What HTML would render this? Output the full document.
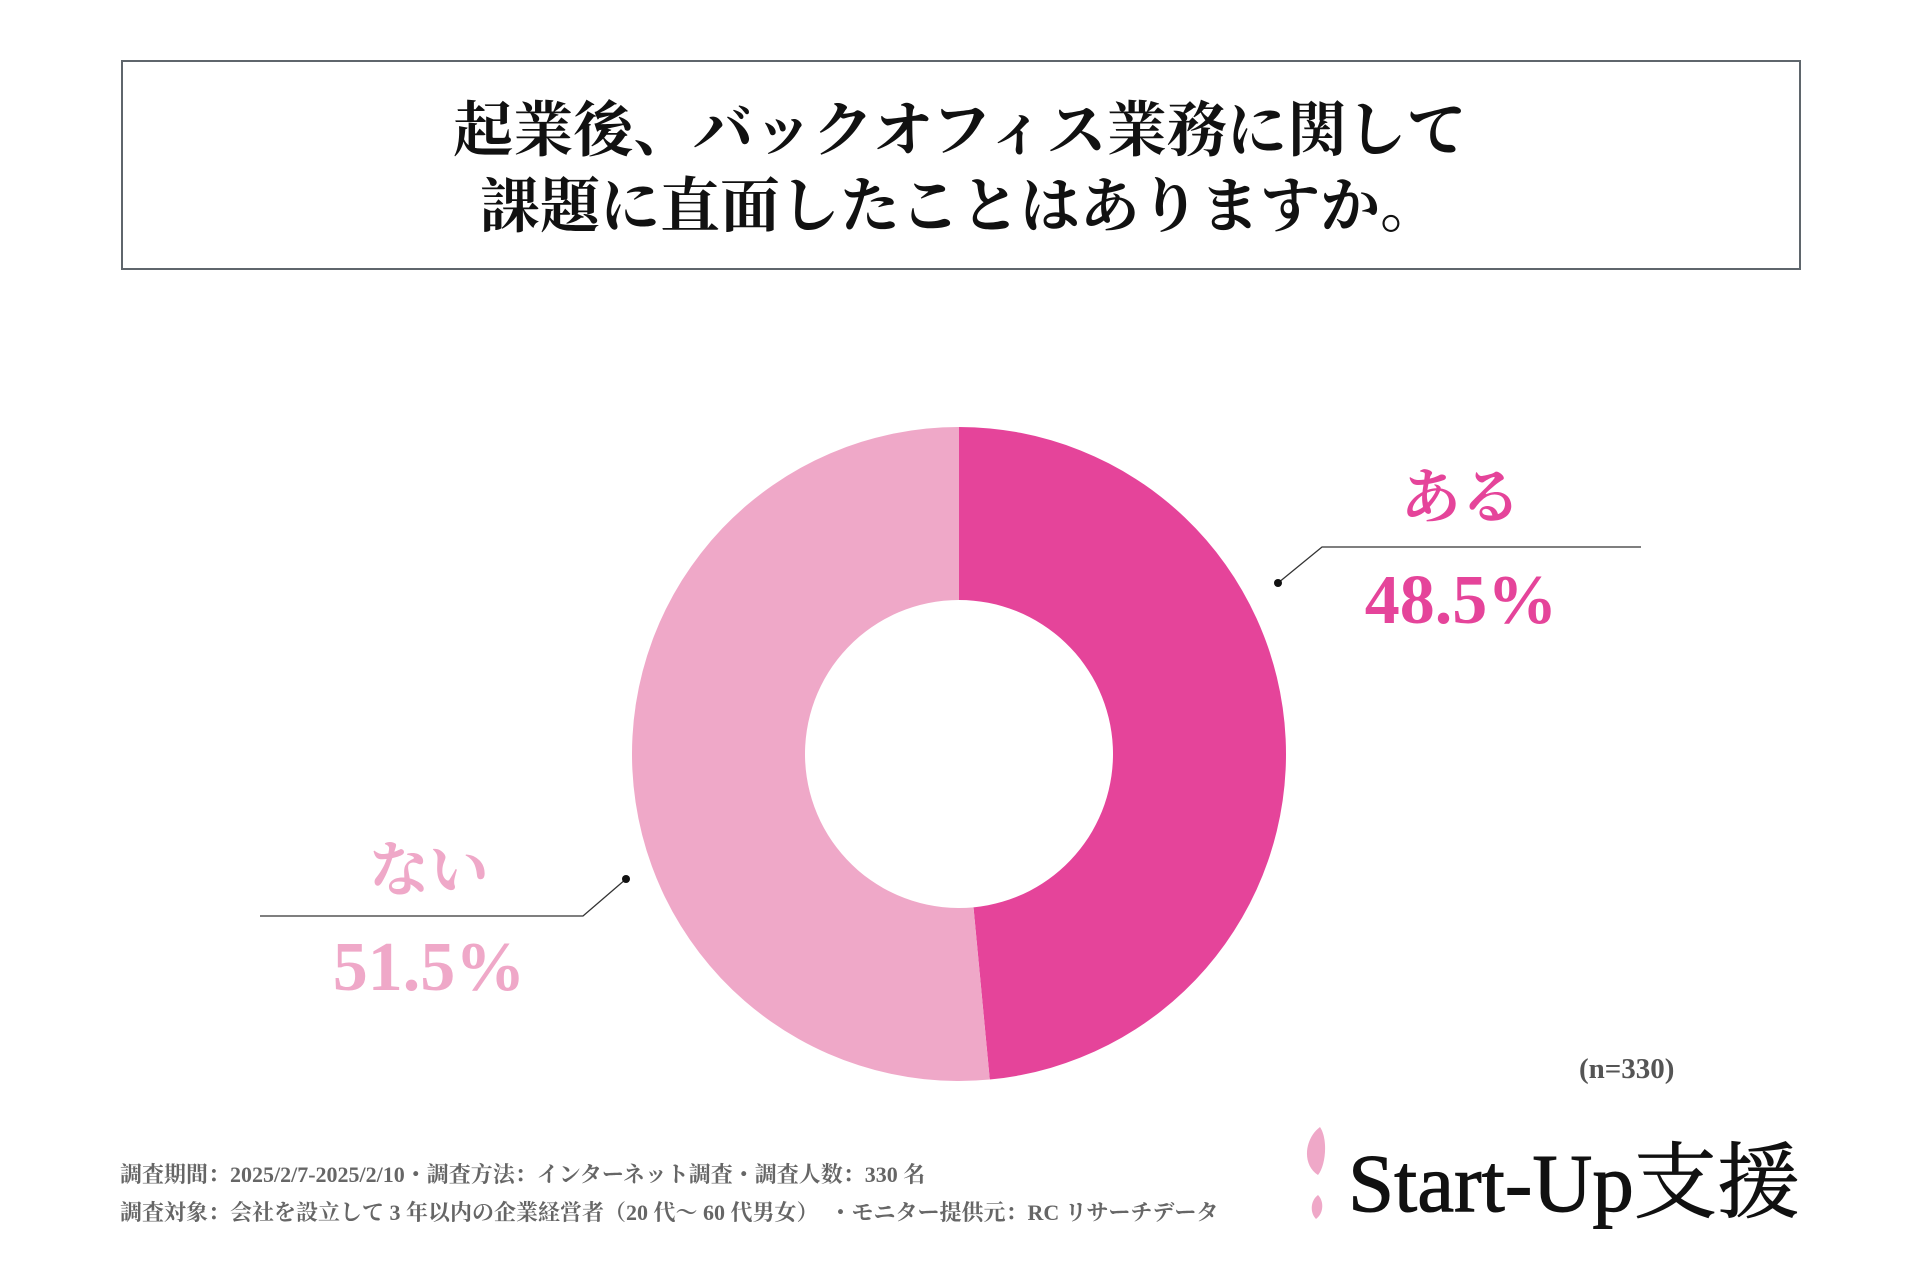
<!DOCTYPE html>
<html><head><meta charset="utf-8"><style>
html,body{margin:0;padding:0;background:#fff;}
body{width:1920px;height:1280px;position:relative;overflow:hidden;font-family:"Liberation Serif","Noto Serif CJK SC",serif;}
.t{position:absolute;white-space:nowrap;}
</style></head><body>
<div style="position:absolute;left:121px;top:60px;width:1676px;height:206px;border:2px solid #5f666c;"></div>
<div class="t" style="left:0;width:1920px;top:93px;text-align:center;font-size:60px;font-weight:bold;line-height:76px;color:#111;">起業後、バックオフィス業務に関して<br>課題に直面したことはありますか。</div>
<svg id="chart" width="1920" height="1280" style="position:absolute;left:0;top:0;"></svg>
<div class="t" style="left:1579px;top:1053px;font-size:29px;font-weight:bold;color:#555;">(n=330)</div>
<div class="t" style="left:120px;top:1158px;font-size:22px;font-weight:bold;color:#666;">調査期間：2025/2/7-2025/2/10・調査方法：インターネット調査・調査人数：330 名</div>
<div class="t" style="left:120px;top:1196px;font-size:22px;font-weight:bold;color:#666;">調査対象：会社を設立して 3 年以内の企業経営者（20 代〜 60 代男女）　・モニター提供元：RC リサーチデータ</div>
<svg width="40" height="100" style="position:absolute;left:1296px;top:1125px;">
<path d="M24 2 C8 14 6 40 22 50 C30 40 32 14 24 2Z" fill="#efa8c8"/>
<path d="M22 70 C14 76 14 88 20 94 C28 88 28 76 22 70Z" fill="#efa8c8"/>
</svg>
<div class="t" style="left:1348px;top:1115px;font-size:83px;color:#111;-webkit-text-stroke:1px #111;">Start-Up支援</div>
<script>
const categories=["ある","ない"];
const values=[48.5,51.5];
const labelsPct=["48.5%","51.5%"];
const colors=["#e5449a","#efa8c8"];
const svg=document.getElementById('chart');
const NS='http://www.w3.org/2000/svg';
const cx=959,cy=754,R=327,r=154;
const total=values.reduce((a,b)=>a+b,0);
function pt(rad,frac){const a=frac*2*Math.PI-Math.PI/2;return [cx+rad*Math.cos(a),cy+rad*Math.sin(a)];}
let acc=0;
values.forEach((v,i)=>{
  const f0=acc/total,f1=(acc+v)/total;acc+=v;
  const large=(f1-f0)>0.5?1:0;
  const [x0,y0]=pt(R,f0),[x1,y1]=pt(R,f1),[x2,y2]=pt(r,f1),[x3,y3]=pt(r,f0);
  const p=document.createElementNS(NS,'path');
  p.setAttribute('d',`M${x0} ${y0} A${R} ${R} 0 ${large} 1 ${x1} ${y1} L${x2} ${y2} A${r} ${r} 0 ${large} 0 ${x3} ${y3}Z`);
  p.setAttribute('fill',colors[i]);
  
  
  svg.appendChild(p);
});
const leaders=[{dot:[1278,583],bend:[1322,547],end:[1641,547],lx:1461,ly1:518,ly2:623},
               {dot:[626,879],bend:[583,916],end:[260,916],lx:429,ly1:891,ly2:990}];
leaders.forEach((L,i)=>{
  const pl=document.createElementNS(NS,'polyline');
  pl.setAttribute('points',`${L.dot[0]},${L.dot[1]} ${L.bend[0]},${L.bend[1]} ${L.end[0]},${L.end[1]}`);
  pl.setAttribute('fill','none');pl.setAttribute('stroke','#333');pl.setAttribute('stroke-width','1.3');
  
  
  svg.appendChild(pl);
  const c=document.createElementNS(NS,'circle');
  c.setAttribute('cx',L.dot[0]);c.setAttribute('cy',L.dot[1]);c.setAttribute('r','4');c.setAttribute('fill','#111');
  
  
  svg.appendChild(c);
  const t1=document.createElementNS(NS,'text');
  t1.setAttribute('x',L.lx);t1.setAttribute('y',L.ly1);t1.setAttribute('text-anchor','middle');
  t1.setAttribute('font-size','60');t1.setAttribute('font-weight','bold');t1.setAttribute('fill',colors[i]);
  t1.setAttribute('font-family','"Liberation Serif","Noto Serif CJK SC",serif');
  t1.textContent=categories[i];
  
  
  svg.appendChild(t1);
  const t2=document.createElementNS(NS,'text');
  t2.setAttribute('x',L.lx);t2.setAttribute('y',L.ly2);t2.setAttribute('text-anchor','middle');
  t2.setAttribute('font-size','70');t2.setAttribute('font-weight','bold');t2.setAttribute('fill',colors[i]);
  t2.setAttribute('font-family','"Liberation Serif","Noto Serif CJK SC",serif');
  t2.textContent=labelsPct[i];
  
  
  svg.appendChild(t2);
});
</script>
</body></html>
